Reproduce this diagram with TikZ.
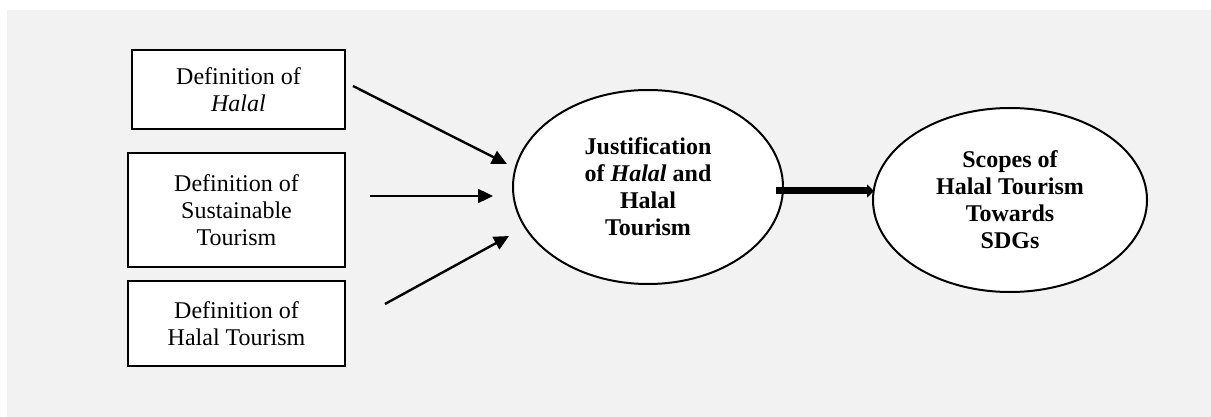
\documentclass[tikz,border=0pt]{standalone}
\usepackage{fontspec}
\setmainfont{Liberation Serif}
\usetikzlibrary{arrows.meta,shapes.geometric,calc}
\definecolor{backgray}{RGB}{242,242,242}
\newcommand{\widthbox}{108.5pt}
\newcommand{\widthgoal}{136pt}
\newcommand{\textsize}{\fontsize{12}{13.5}\selectfont}
\tikzset{
    common/.style={draw, line width=1pt, fill=white, align=center, inner sep=0pt},
    defbox/.style={common, rectangle, minimum width=\widthbox, font=\textsize},
    goal/.style={common, ellipse, font=\textsize\bfseries, minimum width=\widthgoal},
    link/.style={-{Triangle[length=7.5pt,width=7pt]}, line width=1.2pt},
    mainlink/.style={-{Triangle[length=3.5pt,width=6.5pt]}, line width=3.5pt}
}

\begin{document}
\begin{tikzpicture}[x=0.5pt, y=-0.5pt]
    \useasboundingbox (0,0) rectangle (1211,417);
    \fill[backgray] (7,10) rectangle (1211,417);

    \path
        (238.5,89.5) node[defbox, minimum width=106.5pt, minimum height=39.5pt] (defhalal) {Definition of\\ \emph{Halal}}
        to ++(-2,120.5) node[defbox, minimum height=57pt] (defsustain) {Definition of\\ Sustainable\\ Tourism}
        to ++(0,113.5) node[defbox, minimum height=42.5pt] (defhtourism) {Definition of\\ Halal Tourism};

    \path
        (648,187) node[goal, minimum width=135pt, minimum height=97pt] (justify) {Justification\\ of \emph{Halal} and\\ Halal\\ Tourism}
        to ++(362,13) node[goal, minimum width=137pt, minimum height=92pt] (scopes) {Scopes of\\ Halal Tourism\\ Towards\\ SDGs};

    \draw[link] ($(defhalal.east)+(7,-3.5)$) -- ($(justify.west)+(-5,-23)$);
    \draw[link] ($(defsustain.east)+(24,-14)$) -- ($(justify.west)+(-19,9)$);
    \draw[link] ($(defhtourism.east)+(39,-19.5)$) -- ($(justify.west)+(-3,49)$);
    \draw[mainlink] ($(justify.east)+(-8,4)$) -- ($(scopes.west)+(2,-9)$);
\end{tikzpicture}
\end{document}
